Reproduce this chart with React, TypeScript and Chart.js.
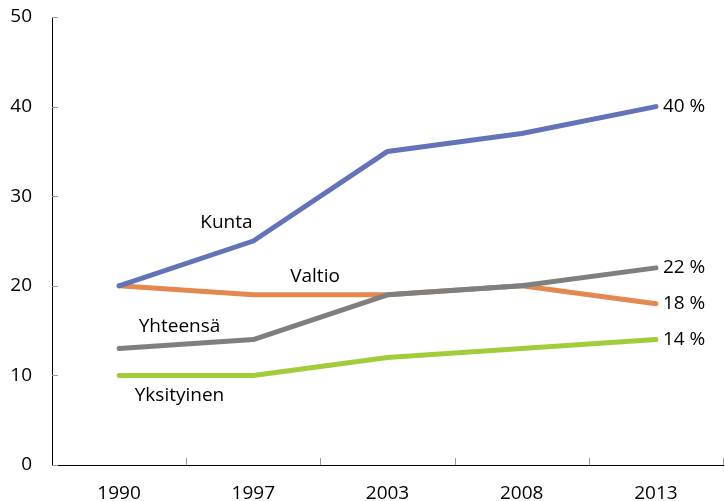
import React, { useEffect, useRef } from "react";
import { Chart, registerables } from "chart.js";

Chart.register(...registerables);

const years = ["1990", "1997", "2003", "2008", "2013"];
const kunta = [20, 25, 35, 37, 40];
const yhteensa = [13, 14, 19, 20, 22];
const valtio = [20, 19, 19, 20, 18];
const yksityinen = [10, 10, 12, 13, 14];
const yTicks = [0, 10, 20, 30, 40, 50];

// series name labels: [text, category position, value position]
const seriesLabels: [string, number, number][] = [
  ["Kunta", 0.8, 27.0],
  ["Valtio", 1.46, 21.0],
  ["Yhteensä", 0.45, 15.4],
  ["Yksityinen", 0.45, 7.7],
];

const FONT = "'Open Sans', sans-serif";
const FS = 19;

const annotate = {
  id: "annotate",
  afterDraw(chart: any) {
    const ctx = chart.ctx;
    const xs = chart.scales.x;
    const ys = chart.scales.y;
    const area = chart.chartArea;
    ctx.save();
    ctx.strokeStyle = "#999";
    ctx.lineWidth = 1;
    yTicks.forEach((v) => {
      const y = Math.round(ys.getPixelForValue(v)) + 0.5;
      ctx.beginPath();
      ctx.moveTo(area.left, y);
      ctx.lineTo(area.left + 6, y);
      ctx.stroke();
    });
    for (let i = 1; i <= years.length; i++) {
      const x = Math.round(xs.getPixelForValue(i - 0.5)) + 0.5;
      ctx.beginPath();
      ctx.moveTo(x, area.bottom);
      ctx.lineTo(x, area.bottom - 7);
      ctx.stroke();
    }
    ctx.fillStyle = "#000";
    ctx.font = `${FS}px ${FONT}`;
    ctx.textBaseline = "middle";
    ctx.textAlign = "center";
    seriesLabels.forEach(([t, cx, cy]) => {
      ctx.fillText(t, xs.getPixelForValue(cx), ys.getPixelForValue(cy));
    });
    ctx.textAlign = "left";
    const last = years.length - 1;
    [kunta, yhteensa, valtio, yksityinen].forEach((arr) => {
      const v = arr[last];
      ctx.fillText(`${v} %`, xs.getPixelForValue(last) + 7, ys.getPixelForValue(v));
    });
    ctx.restore();
  },
};

export default function App() {
  const ref = useRef<HTMLCanvasElement | null>(null);
  useEffect(() => {
    document.body.style.margin = "0";
    const ds = (label: string, data: number[], color: string) => ({
      label,
      data,
      borderColor: color,
      backgroundColor: color,
      borderWidth: 5,
      pointRadius: 0,
      borderCapStyle: "round" as const,
      borderJoinStyle: "round" as const,
      tension: 0,
    });
    const chart = new Chart(ref.current!, {
      type: "line",
      data: {
        labels: years,
        datasets: [
          ds("Kunta", kunta, "#6373B9"),
          ds("Yhteensä", yhteensa, "#7F7F7F"),
          ds("Valtio", valtio, "#E3884F"),
          ds("Yksityinen", yksityinen, "#A2CD3A"),
        ],
      },
      options: {
        responsive: false,
        animation: false,
        layout: { padding: { top: 17, right: 2, left: 0, bottom: 0 } },
        plugins: { legend: { display: false }, tooltip: { enabled: false } },
        scales: {
          x: {
            offset: true,
            grid: { display: false, drawTicks: false },
            border: { display: true, color: "#000", width: 1 },
            ticks: { color: "#000", font: { family: FONT, size: FS }, padding: 17, maxRotation: 0 },
            afterFit: (s: any) => { s.height = 36; s.paddingLeft = 0; s.paddingRight = 0; },
          },
          y: {
            min: 0,
            max: 50,
            grid: { display: false, drawTicks: false },
            border: { display: true, color: "#000", width: 1 },
            ticks: { stepSize: 10, color: "#000", font: { family: FONT, size: FS }, padding: 20 },
            afterFit: (s: any) => { s.width = 52; s.paddingTop = 0; s.paddingBottom = 0; },
          },
        },
      },
      plugins: [annotate],
    });
    return () => chart.destroy();
  }, []);
  return (
    <div style={{ position: "relative", width: 725, height: 501 }}>
      <canvas ref={ref} width={725} height={501} style={{ width: 725, height: 501, display: "block" }} />
    </div>
  );
}
